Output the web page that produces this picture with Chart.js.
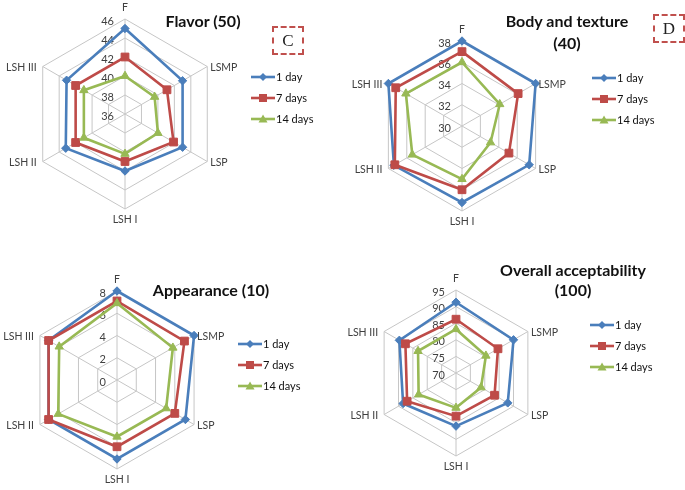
<!DOCTYPE html>
<html>
<head>
<meta charset="utf-8">
<script src="https://cdn.jsdelivr.net/npm/chart.js@4.4.0/dist/chart.umd.min.js"></script>
<style>
    body { margin: 0; background: #fff; }
    #wrap { position: relative; width: 685px; height: 490px; overflow: hidden; font-family: Lato, "Open Sans", sans-serif; }
    #wrap canvas { position: absolute; left: 0; top: 0; }
    .title { position: absolute; font-weight: bold; font-size: 16px; color: #111; text-align: center; white-space: nowrap; transform: translateX(-50%); line-height: 21px; }
    .tag { position: absolute; border: 2px dashed #c0504d; box-sizing: border-box; font-family: "Liberation Serif", serif; font-size: 17px; color: #222; text-align: center; }
    .legend { position: absolute; font-size: 11px; color: #111; }
    .legend .row { height: 21px; display: flex; align-items: center; }
    .legend svg { margin-right: 1px; }
</style>
</head>
<body>
<div id="wrap">
    <canvas id="c-flavor" width="685" height="490"></canvas>
    <canvas id="c-body" width="685" height="490"></canvas>
    <canvas id="c-appear" width="685" height="490"></canvas>
    <canvas id="c-overall" width="685" height="490"></canvas>

    <div class="title" style="left:203px; top:10px;">Flavor (50)</div>
    <div class="title" style="left:567px; top:10px; line-height:21.6px;">Body and texture<br>(40)</div>
    <div class="title" style="left:211px; top:279px;">Appearance (10)</div>
    <div class="title" style="left:573px; top:260px; line-height:20px;">Overall acceptability<br>(100)</div>

    <div class="tag" style="left:272px; top:26px; width:32px; height:29px; line-height:25px;">C</div>
    <div class="tag" style="left:653px; top:14px; width:32px; height:29px; line-height:25px;">D</div>

    <div class="legend" id="lg-flavor" style="left:251px; top:66px;"></div>
    <div class="legend" id="lg-body" style="left:592px; top:67px;"></div>
    <div class="legend" id="lg-appear" style="left:238px; top:333px;"></div>
    <div class="legend" id="lg-overall" style="left:590px; top:314px;"></div>
</div>

<script>
// Axes of every radar
var axisLabels = ['F', 'LSMP', 'LSP', 'LSH I', 'LSH II', 'LSH III'];
var seriesNames = ['1 day', '7 days', '14 days'];

// Flavor (50)
var flavor1 = [45, 43, 43, 42, 43.2, 43.1];
var flavor7 = [42, 41.1, 41.9, 41, 42, 42];
var flavor14 = [40, 39.6, 40, 40.2, 41, 41];
var flavorTicks = [36, 38, 40, 42, 44, 46];

// Body and texture (40)
var body1 = [38, 38, 37.3, 37.2, 37.4, 38];
var body7 = [37, 36.1, 35.1, 36, 37.3, 37.2];
var body14 = [36, 34.1, 33.1, 35, 35.4, 36.1];
var bodyTicks = [30, 32, 34, 36, 38];

// Appearance (10)
var appear1 = [8, 8, 7.1, 7.1, 7.1, 7.1];
var appear7 = [7.1, 7, 6, 6, 7.1, 7.1];
var appear14 = [6.9, 5.8, 5.1, 5.1, 6.1, 6];
var appearTicks = [0, 2, 4, 6, 8];

// Overall acceptability (100)
var overall1 = [91.3, 90, 88, 86, 88.4, 89.7];
var overall7 = [86.2, 84.6, 83.4, 83, 87, 87.6];
var overall14 = [83.2, 80.4, 78.7, 80.5, 83, 83.2];
var overallTicks = [70, 75, 80, 85, 90, 95];

var BLUE = '#4a7ebb';
var RED = '#be4b48';
var GREEN = '#98b954';
var GRID = '#c6c6c6';
var TEXT = '#404040';
var FONT = 'Lato, "Open Sans", sans-serif';

// Tick labels just left of the vertical spoke, under the data
var tickLabelPlugin = {
    id: 'tickLabels',
    beforeDatasetsDraw: function(chart) {
        var scale = chart.scales.r;
        var ctx = chart.ctx;
        ctx.save();
        ctx.font = '11px ' + FONT;
        ctx.fillStyle = TEXT;
        ctx.textAlign = 'right';
        ctx.textBaseline = 'middle';
        scale.ticks.forEach(function(t) {
            var d = scale.getDistanceFromCenterForValue(t.value);
            ctx.fillText(String(t.value), scale.xCenter - 11, scale.yCenter - d + 2);
        });
        ctx.restore();
    }
};

// Category labels at the hexagon corners
var pointLabelPlugin = {
    id: 'cornerLabels',
    afterDraw: function(chart) {
        var scale = chart.scales.r;
        var ctx = chart.ctx;
        ctx.save();
        ctx.font = '10.5px ' + FONT;
        ctx.fillStyle = TEXT;
        ctx.textBaseline = 'middle';
        axisLabels.forEach(function(lbl, i) {
            var p = scale.getPointPosition(i, scale.drawingArea);
            if (i === 0) {
                ctx.textAlign = 'center';
                ctx.fillText(lbl, p.x, p.y - 11);
            } else if (i === 3) {
                ctx.textAlign = 'center';
                ctx.fillText(lbl, p.x, p.y + 11);
            } else if (i < 3) {
                ctx.textAlign = 'left';
                ctx.fillText(lbl, p.x + 3, p.y + 1);
            } else {
                ctx.textAlign = 'right';
                ctx.fillText(lbl, p.x - 6, p.y + 1);
            }
        });
        ctx.restore();
    }
};

function series(label, values, color, style, radius, order) {
    return {
        label: label,
        data: values,
        borderColor: color,
        backgroundColor: color,
        pointBackgroundColor: color,
        pointBorderColor: color,
        pointStyle: style,
        pointRadius: radius,
        pointBorderWidth: 1,
        borderWidth: 2.6,
        fill: false,
        clip: false,
        order: order
    };
}

// cx, cy, r = centre and outer radius of the radar on the page
function makeRadar(canvasId, cx, cy, r, d1, d7, d14, ticks) {
    var ctx = document.getElementById(canvasId).getContext('2d');
    return new Chart(ctx, {
        type: 'radar',
        data: {
            labels: axisLabels,
            datasets: [
                series(seriesNames[0], d1, BLUE, 'rectRot', 4.2, 3),
                series(seriesNames[1], d7, RED, 'rect', 5.5, 2),
                series(seriesNames[2], d14, GREEN, 'triangle', 4.8, 1)
            ]
        },
        options: {
            responsive: false,
            animation: false,
            layout: {
                padding: { left: cx - r, top: cy - r, right: 685 - cx - r, bottom: 490 - cy - r }
            },
            elements: { line: { tension: 0 } },
            plugins: { legend: { display: false }, tooltip: { enabled: false } },
            scales: {
                r: {
                    min: ticks[0],
                    max: ticks[ticks.length - 1],
                    ticks: { display: false, stepSize: ticks[1] - ticks[0] },
                    afterBuildTicks: function(scale) {
                        scale.ticks = ticks.map(function(v) { return { value: v }; });
                    },
                    pointLabels: { display: false },
                    grid: { color: GRID, lineWidth: 1 },
                    angleLines: { color: GRID, lineWidth: 1 }
                }
            }
        },
        plugins: [tickLabelPlugin, pointLabelPlugin]
    });
}

makeRadar('c-flavor', 125, 114, 95, flavor1, flavor7, flavor14, flavorTicks);
makeRadar('c-body', 462, 126, 85, body1, body7, body14, bodyTicks);
makeRadar('c-appear', 117, 380, 89, appear1, appear7, appear14, appearTicks);
makeRadar('c-overall', 456, 373, 83, overall1, overall7, overall14, overallTicks);

// Legends: line with marker, then the series name
function markerSvg(color, shape) {
    var m;
    if (shape === 'diamond') {
        m = '<polygon points="12,2 16,6 12,10 8,6" fill="' + color + '"/>';
    } else if (shape === 'square') {
        m = '<rect x="8" y="2" width="8" height="8" fill="' + color + '"/>';
    } else {
        m = '<polygon points="12,1.5 16.5,9.5 7.5,9.5" fill="' + color + '"/>';
    }
    return '<svg width="24" height="12" viewBox="0 0 24 12">' +
        '<line x1="0" y1="6" x2="24" y2="6" stroke="' + color + '" stroke-width="2.6"/>' + m + '</svg>';
}

function buildLegend(id) {
    var html = '';
    var colors = [BLUE, RED, GREEN];
    var shapes = ['diamond', 'square', 'triangle'];
    for (var i = 0; i < seriesNames.length; i++) {
        html += '<div class="row">' + markerSvg(colors[i], shapes[i]) + '<span>' + seriesNames[i] + '</span></div>';
    }
    document.getElementById(id).innerHTML = html;
}

buildLegend('lg-flavor');
buildLegend('lg-body');
buildLegend('lg-appear');
buildLegend('lg-overall');
</script>
</body>
</html>
